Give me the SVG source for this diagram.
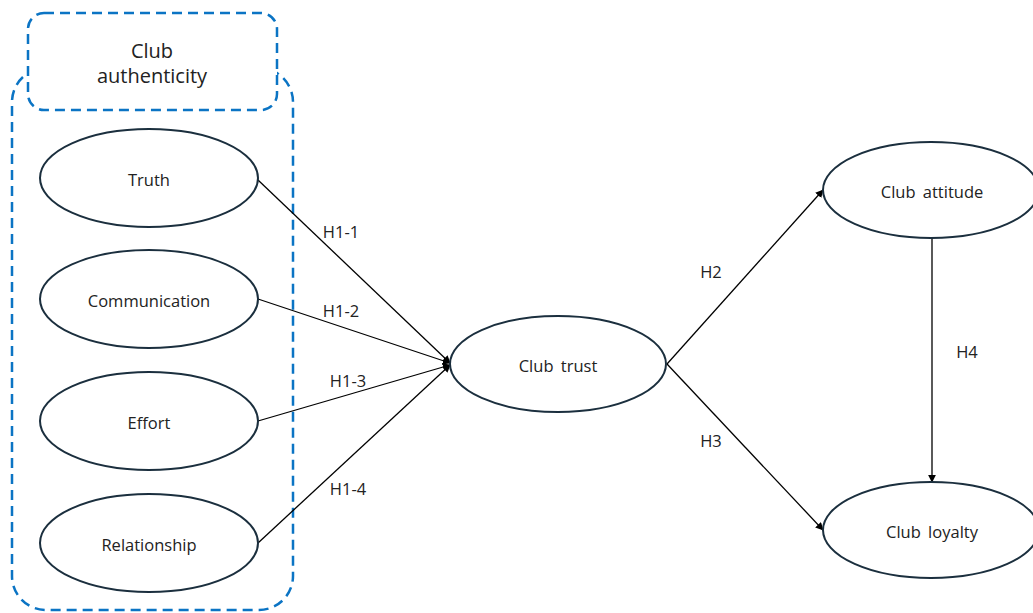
<svg xmlns="http://www.w3.org/2000/svg" width="1033" height="613" viewBox="0 0 1033 613">
<style>
.node{fill:#fff;stroke:#1b2f3e;stroke-width:2}
.grp{fill:#fff;stroke:#0b74c4;stroke-width:2.5;stroke-dasharray:10 6}
.lbl{font-family:"Open Sans","Noto Sans",sans-serif;font-size:16.5px;fill:#222;text-anchor:middle;dominant-baseline:central}
.ws{word-spacing:3px}
.conn{stroke:#000;stroke-width:1.3;fill:none;marker-end:url(#ah)}
</style>
<defs>
<marker id="ah" viewBox="0 0 10 10" refX="9" refY="5" markerWidth="8" markerHeight="8" markerUnits="userSpaceOnUse" orient="auto">
<path d="M0,0 L10,5 L0,10 z" fill="#000"/>
</marker>
</defs>
<g id="group-authenticity">
<rect class="grp" x="12" y="68" width="281" height="542" rx="34"/>
<rect class="grp" x="28" y="13" width="249" height="97" rx="16"/>
<text class="lbl" x="152" y="50" style="font-size:20px">Club</text>
<text class="lbl" x="152" y="75" style="font-size:20px">authenticity</text>
</g>
<g id="connectors">
<line class="conn" x1="258" y1="180" x2="450" y2="363"/>
<line class="conn" x1="258" y1="299" x2="450" y2="363"/>
<line class="conn" x1="258" y1="421" x2="450" y2="365"/>
<line class="conn" x1="258" y1="543" x2="450" y2="365"/>
<line class="conn" x1="667" y1="364" x2="823" y2="190"/>
<line class="conn" x1="667" y1="364" x2="823" y2="530"/>
<line class="conn" x1="932" y1="238" x2="932" y2="482"/>
<text class="lbl" x="341" y="231">H1-1</text>
<text class="lbl" x="341" y="310">H1-2</text>
<text class="lbl" x="348" y="380">H1-3</text>
<text class="lbl" x="348" y="488">H1-4</text>
<text class="lbl" x="711" y="271">H2</text>
<text class="lbl" x="711" y="440">H3</text>
<text class="lbl" x="967" y="351">H4</text>
</g>
<g id="truth"><ellipse class="node" cx="149" cy="178" rx="109" ry="49"/><text class="lbl" x="149" y="179">Truth</text></g>
<g id="communication"><ellipse class="node" cx="149" cy="299" rx="109" ry="49"/><text class="lbl" x="149" y="300">Communication</text></g>
<g id="effort"><ellipse class="node" cx="149" cy="421" rx="109" ry="49"/><text class="lbl" x="149" y="422">Effort</text></g>
<g id="relationship"><ellipse class="node" cx="149" cy="543" rx="109" ry="49"/><text class="lbl" x="149" y="544">Relationship</text></g>
<g id="club-trust"><ellipse class="node" cx="558" cy="364" rx="108" ry="48"/><text class="lbl ws" x="558" y="365">Club trust</text></g>
<g id="club-attitude"><ellipse class="node" cx="931" cy="190" rx="108" ry="48"/><text class="lbl ws" x="932" y="191">Club attitude</text></g>
<g id="club-loyalty"><ellipse class="node" cx="931" cy="530" rx="108" ry="48"/><text class="lbl ws" x="932" y="531">Club loyalty</text></g>
</svg>
